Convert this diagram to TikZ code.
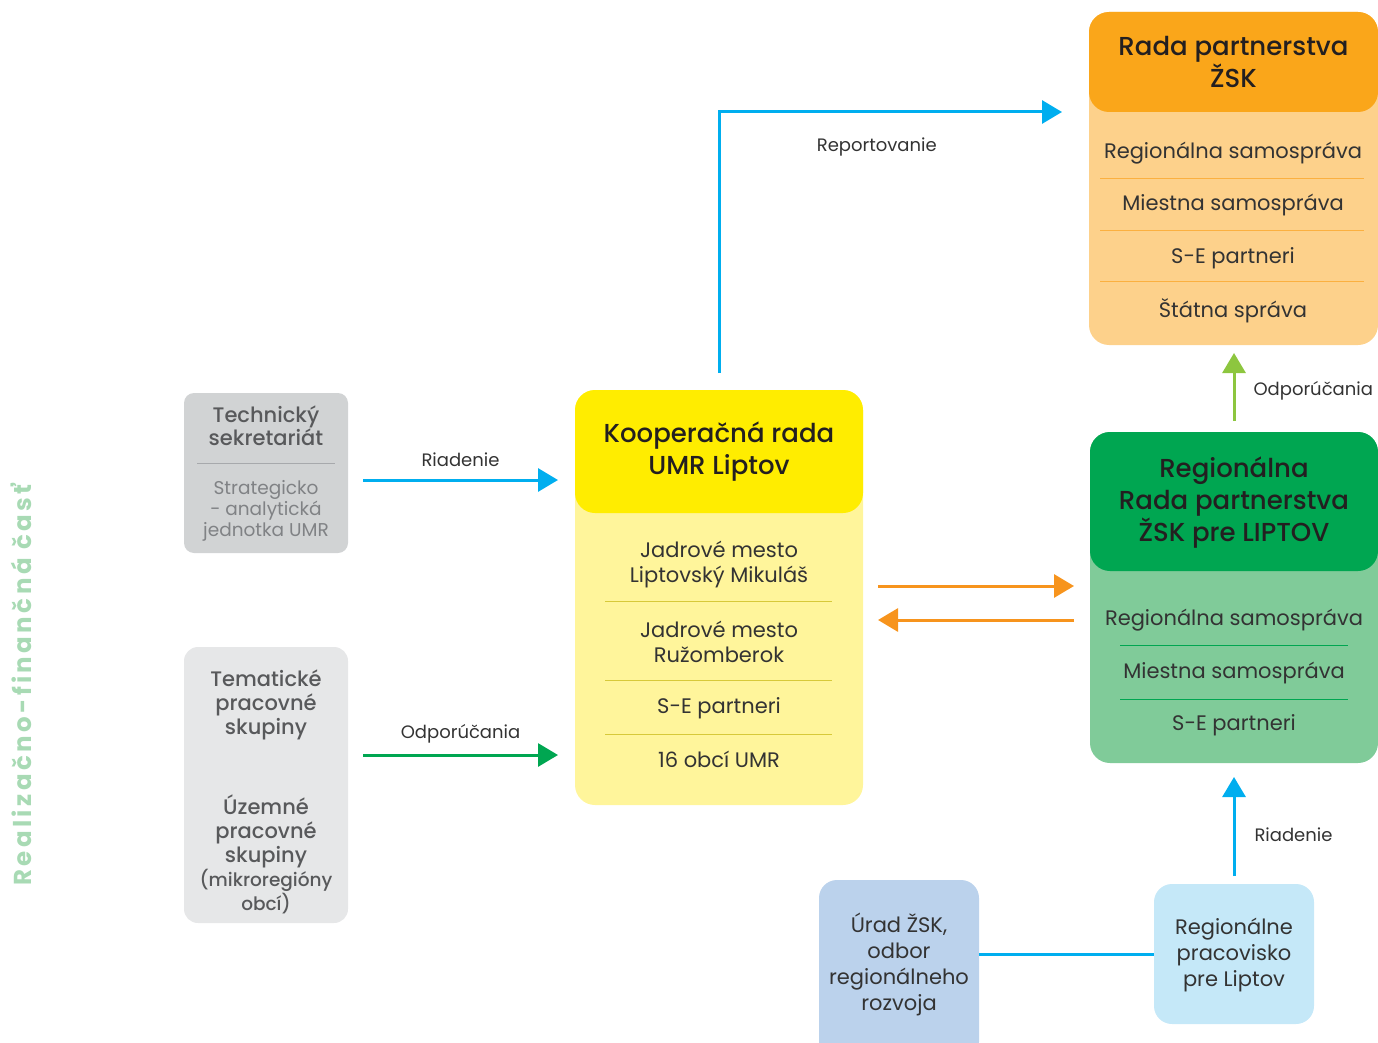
\documentclass[tikz,border=0pt]{standalone}
\usepackage{fontspec}
\setmainfont{Poppins}
\newfontfamily\medfont{Poppins Medium}
\usetikzlibrary{arrows.meta,calc}
\definecolor{orD}{HTML}{FAA61A}
\definecolor{orL}{HTML}{FDD18B}
\definecolor{orS}{HTML}{FBB040}
\definecolor{yeD}{HTML}{FFED00}
\definecolor{yeL}{HTML}{FFF59B}
\definecolor{yeS}{HTML}{D7C93A}
\definecolor{grD}{HTML}{00A651}
\definecolor{grL}{HTML}{80CB99}
\definecolor{gy1}{HTML}{D1D3D4}
\definecolor{gy1S}{HTML}{A7A9AC}
\definecolor{gy2}{HTML}{E6E7E8}
\definecolor{gyT}{HTML}{58595B}
\definecolor{gyT2}{HTML}{808285}
\definecolor{bl1}{HTML}{BBD2EC}
\definecolor{bl2}{HTML}{C5E8F8}
\definecolor{txt}{HTML}{231F20}
\definecolor{itx}{HTML}{333333}
\definecolor{aBlue}{HTML}{00AEEF}
\definecolor{aGreen}{HTML}{00A651}
\definecolor{aOrange}{HTML}{F7941D}
\definecolor{aLGreen}{HTML}{8DC63F}
\definecolor{vtx}{HTML}{A8DAB4}
\begin{document}
\begin{tikzpicture}[x=1pt,y=-1pt,
  boxbody/.style={rounded corners=20pt, inner sep=0pt, outer sep=0pt},
  hdr/.style={rounded corners=20pt, inner sep=0pt, outer sep=0pt, anchor=north, align=center, text=txt, font=\medfont\fontsize{26}{32}\selectfont},
  item/.style={align=center, text=itx, inner sep=0pt, font=\fontsize{21}{25}\selectfont},
  lbl/.style={text=itx, inner sep=0pt, font=\fontsize{18}{22}\selectfont},
  arr/.style={line width=3pt, -{Triangle[length=20pt,width=23pt]}},
  sep/.style={line width=1pt}
]
\useasboundingbox (0,0) rectangle (1378,1043);
\clip (0,0) rectangle (1378,1043);

% vertical label
\node[rotate=90, text=vtx, inner sep=0pt, font=\bfseries\fontsize{24.5}{28}\selectfont\addfontfeatures{LetterSpace=14}] (vlabel) at (21,685) {Realizačno-finančná časť};

% Rada partnerstva ZSK
\node[boxbody, fill=orL, minimum width=289pt, minimum height=333pt] (rp) at (1233.5,178.5) {};
\node[hdr, fill=orD, minimum width=289pt, minimum height=100pt] (rph) at (rp.north) {Rada partnerstva\\ŽSK};
\node[item] (rp1) at (1233,153.5) {Regionálna samospráva};
\node[item] (rp2) at (1233,205.5) {Miestna samospráva};
\node[item] (rp3) at (1233,258.5) {S-E partneri};
\node[item] (rp4) at (1233,310.5) {Štátna správa};
\draw[sep, orS] (1100,179) -- (1364,179) (1100,230) -- (1364,230) (1100,281) -- (1364,281);

% Kooperacna rada
\node[boxbody, fill=yeL, minimum width=288pt, minimum height=415pt] (kr) at (719,597.5) {};
\node[hdr, fill=yeD, minimum width=288pt, minimum height=123pt, text depth=6pt] (krh) at (kr.north) {Kooperačná rada\\UMR Liptov};
\node[item] (kr1) at (719,565) {Jadrové mesto\\Liptovský Mikuláš};
\node[item] (kr2) at (719,642) {Jadrové mesto\\Ružomberok};
\node[item] (kr3) at (719,708.5) {S-E partneri};
\node[item] (kr4) at (719,759.5) {16 obcí UMR};
\draw[sep, yeS] (605,601) -- (832,601) (605,680) -- (832,680) (605,734) -- (832,734);

% Regionalna rada
\node[boxbody, fill=grL, minimum width=288pt, minimum height=331pt] (rg) at (1234,597.5) {};
\node[hdr, fill=grD, minimum width=288pt, minimum height=139pt, text depth=4pt] (rgh) at (rg.north) {Regionálna\\Rada partnerstva\\ŽSK pre LIPTOV};
\node[item] (rg1) at (1234,620.5) {Regionálna samospráva};
\node[item] (rg2) at (1234,673.5) {Miestna samospráva};
\node[item] (rg3) at (1234,725.5) {S-E partneri};
\draw[sep, grD] (1120,645) -- (1348,645) (1120,699) -- (1348,699);

% Technicky sekretariat
\node[rounded corners=10pt, fill=gy1, minimum width=164pt, minimum height=160pt, inner sep=0pt, outer sep=0pt] (tech) at (266,473) {};
\node[align=center, text=gyT, inner sep=0pt, font=\medfont\fontsize{21}{23}\selectfont] (tech1) at (266,426) {Technický\\sekretariát};
\draw[sep, gy1S] (197,463) -- (335,463);
\node[align=center, text=gyT2, inner sep=0pt, font=\fontsize{18.5}{21}\selectfont] (tech2) at (266,510.5) {Strategicko\\- analytická\\jednotka UMR};

% Pracovne skupiny
\node[rounded corners=14pt, fill=gy2, minimum width=164pt, minimum height=276pt, inner sep=0pt, outer sep=0pt] (ps) at (266,785) {};
\node[align=center, text=gyT, inner sep=0pt, font=\medfont\fontsize{21}{24}\selectfont] (ps1) at (266,705) {Tematické\\pracovné\\skupiny};
\node[align=center, text=gyT, inner sep=0pt, font=\medfont\fontsize{21}{24}\selectfont] (ps2) at (266,854) {Územné\\pracovné\\skupiny\\{\fontsize{18.5}{24}\selectfont (mikroregióny}\\{\fontsize{18.5}{24}\selectfont obcí)}};

% Urad ZSK
\node[rounded corners=18pt, fill=bl1, minimum width=160pt, minimum height=180pt, inner sep=0pt, outer sep=0pt] (urad) at (899,970) {};
\node[item, font=\fontsize{21}{26}\selectfont] (urad1) at (899,964) {Úrad ŽSK,\\odbor\\regionálneho\\rozvoja};

% Regionalne pracovisko
\node[rounded corners=18pt, fill=bl2, minimum width=160pt, minimum height=140pt, inner sep=0pt, outer sep=0pt] (rpr) at (1234,954) {};
\node[item, font=\fontsize{21}{26}\selectfont] (rpr1) at (1234,955.5) {Regionálne\\pracovisko\\pre Liptov};

% connectors
\draw[arr, aBlue] ($(tech.east)+(15,7)$) -- ($(tech.east -| kr.west)+(-17,7)$)
  node[lbl, midway, yshift=20pt] (l1) {Riadenie};
\draw[arr, aGreen] ($(ps.east)+(15,-30)$) -- ($(ps.east -| kr.west)+(-17,-30)$)
  node[lbl, midway, yshift=21pt] (l2) {Odporúčania};
\draw[arr, aBlue] ($(kr.north)+(0,-17)$) |- ($(rph.south west)+(-27,0)$)
  node[lbl, pos=0.73, yshift=-35pt] (l3) {Reportovanie};
\draw[arr, aOrange] ($(kr.east)+(15,-11.5)$) -- ($(kr.east -| rg.west)+(-16,-11.5)$);
\draw[arr, aOrange] ($(kr.east -| rg.west)+(-16,22.5)$) -- ($(kr.east)+(15,22.5)$);
\draw[arr, aLGreen] ($(rg.north)+(0,-11)$) -- ($(rp.south -| rg.north)+(0,8)$)
  node[lbl, midway, anchor=west, xshift=18pt, yshift=-4pt] (l4) {Odporúčania};
\draw[arr, aBlue] ($(rpr.north)+(0,-8)$) -- ($(rg.south -| rpr.north)+(0,14)$)
  node[lbl, midway, anchor=west, xshift=19pt, yshift=-8pt] (l5) {Riadenie};
\draw[line width=3pt, aBlue] (urad.east |- rpr.west) -- (rpr.west);
\end{tikzpicture}
\end{document}
